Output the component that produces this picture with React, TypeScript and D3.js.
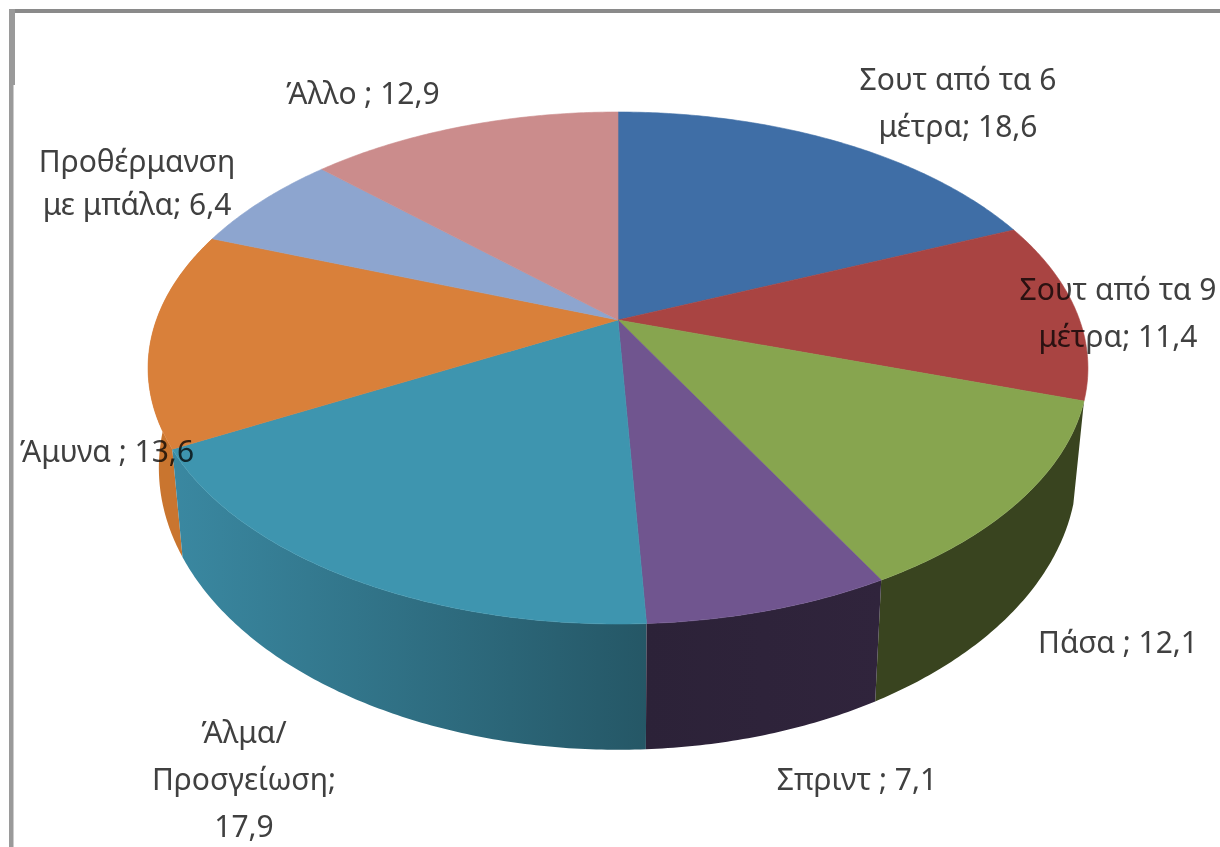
import React from "react";
import * as d3 from "d3";

// Training share per activity, in percent, clockwise from twelve o'clock.
const categories = [
  "Σουτ από τα 6 μέτρα",
  "Σουτ από τα 9 μέτρα",
  "Πάσα",
  "Σπριντ",
  "Άλμα/Προσγείωση",
  "Άμυνα",
  "Προθέρμανση με μπάλα",
  "Άλλο",
];
const values = [18.6, 11.4, 12.1, 7.1, 17.9, 13.6, 6.4, 12.9];
const valueLabels = ["18,6", "11,4", "12,1", "7,1", "17,9", "13,6", "6,4", "12,9"];
const topColors = ["#3F6EA6", "#A94442", "#87A54F", "#70558F", "#3E95AF", "#D9803A", "#8DA5CF", "#CB8C8C"];
const sideColors = [
  ["#2B4D75", "#2B4D75"],
  ["#763030", "#763030"],
  ["#39441F", "#39441F"],
  ["#2C2238", "#30243C"],
  ["#3A88A1", "#255766"],
  ["#C9752F", "#C9752F"],
  ["#6A7FA0", "#6A7FA0"],
  ["#9A6A6A", "#9A6A6A"],
];

// Each label: text lines, centre x and first baseline, with its own line pitch.
const labelLines = [
  [`Σουτ από τα 6`, `μέτρα; ${valueLabels[0]}`],
  [`Σουτ από τα 9`, `μέτρα; ${valueLabels[1]}`],
  [`Πάσα ; ${valueLabels[2]}`],
  [`Σπριντ ; ${valueLabels[3]}`],
  [`Άλμα/`, `Προσγείωση;`, valueLabels[4]],
  [`Άμυνα ; ${valueLabels[5]}`],
  [`Προθέρμανση`, `με μπάλα; ${valueLabels[6]}`],
  [`Άλλο ; ${valueLabels[7]}`],
];
const labelCentres = [958, 1118, 1118, 857, 244, 107, 137, 363];
const labelBaselines = [90, 300, 653, 790, 743, 462, 172, 104];
const labelPitches = [47, 47, 0, 0, 47, 0, 43, 0];

const WIDTH = 1220;
const HEIGHT = 847;
const CX = 618;
const PERSPECTIVE = 0.1875;

// Perspective projection of a disc; angle runs clockwise from the top.
type Disc = { cy: number; a: number; b: number };
const topDisc: Disc = { cy: 320, a: 461.6, b: 247 };
const baseDisc: Disc = { cy: 415, a: 451, b: 272 };

function project(disc: Disc, angle: number): [number, number] {
  const u = Math.sin(angle);
  const v = -Math.cos(angle);
  const w = 1 - PERSPECTIVE * v;
  return [CX + (disc.a * u) / w, disc.cy + (disc.b * v) / w];
}

function rim(disc: Disc, from: number, to: number): [number, number][] {
  const steps = Math.max(2, Math.ceil(Math.abs(to - from) / 0.01));
  return d3.range(steps + 1).map((i) => project(disc, from + ((to - from) * i) / steps));
}

const line = d3.line();
const slices = d3.pie<number>().sort(null).value((d) => d)(values);
const midAngle = (i: number) => (slices[i].startAngle + slices[i].endAngle) / 2;

// Only walls on the near half show; they are painted from the flanks inwards.
const sideOrder = d3
  .range(slices.length)
  .filter((i) => midAngle(i) > Math.PI / 2 && midAngle(i) < (3 * Math.PI) / 2)
  .sort((p, q) => Math.abs(Math.PI - midAngle(q)) - Math.abs(Math.PI - midAngle(p)));

export default function App() {
  return (
    <svg
      width={WIDTH}
      height={HEIGHT}
      viewBox={`0 0 ${WIDTH} ${HEIGHT}`}
      style={{ position: "absolute", left: 0, top: 0, display: "block", background: "#fff" }}
    >
      <defs>
        {slices.map((s, i) => {
          const xs = [...rim(topDisc, s.startAngle, s.endAngle), ...rim(baseDisc, s.startAngle, s.endAngle)].map((p) => p[0]);
          const [x0, x1] = d3.extent(xs) as [number, number];
          // The wall of the slice darkens towards its right-hand end.
          const [leftColor, rightColor] = sideColors[i];
          return (
            <linearGradient key={i} id={`side-${i}`} gradientUnits="userSpaceOnUse" x1={x0} x2={x1} y1={0} y2={0}>
              <stop offset="0" stopColor={leftColor} />
              <stop offset="1" stopColor={rightColor} />
            </linearGradient>
          );
        })}
      </defs>

      <rect x={9} y={9} width={WIDTH - 9} height={4} fill="#8a8a8a" />
      <rect x={9} y={9} width={6} height={76} fill="#9a9a9a" />
      <rect x={9} y={85} width={4.5} height={HEIGHT - 85} fill="#9a9a9a" />

      {sideOrder.map((i) => {
        const s = slices[i];
        const pts = [...rim(topDisc, s.startAngle, s.endAngle), ...rim(baseDisc, s.endAngle, s.startAngle)];
        return <path key={i} d={(line(pts) ?? "") + "Z"} fill={`url(#side-${i})`} />;
      })}

      {slices.map((s, i) => {
        const pts: [number, number][] = [[CX, topDisc.cy], ...rim(topDisc, s.startAngle, s.endAngle)];
        return <path key={i} d={(line(pts) ?? "") + "Z"} fill={topColors[i]} stroke={topColors[i]} strokeWidth={0.6} />;
      })}

      {categories.map((name, i) => (
        <text
          key={name}
          textAnchor="middle"
          fontFamily="'Noto Sans', 'Open Sans', sans-serif"
          fontSize={30}
          fill="#404040"
          style={{ mixBlendMode: "multiply" }}
        >
          {labelLines[i].map((t, j) => (
            <tspan key={j} x={labelCentres[i]} y={labelBaselines[i] + j * labelPitches[i]}>
              {t}
            </tspan>
          ))}
        </text>
      ))}
    </svg>
  );
}
